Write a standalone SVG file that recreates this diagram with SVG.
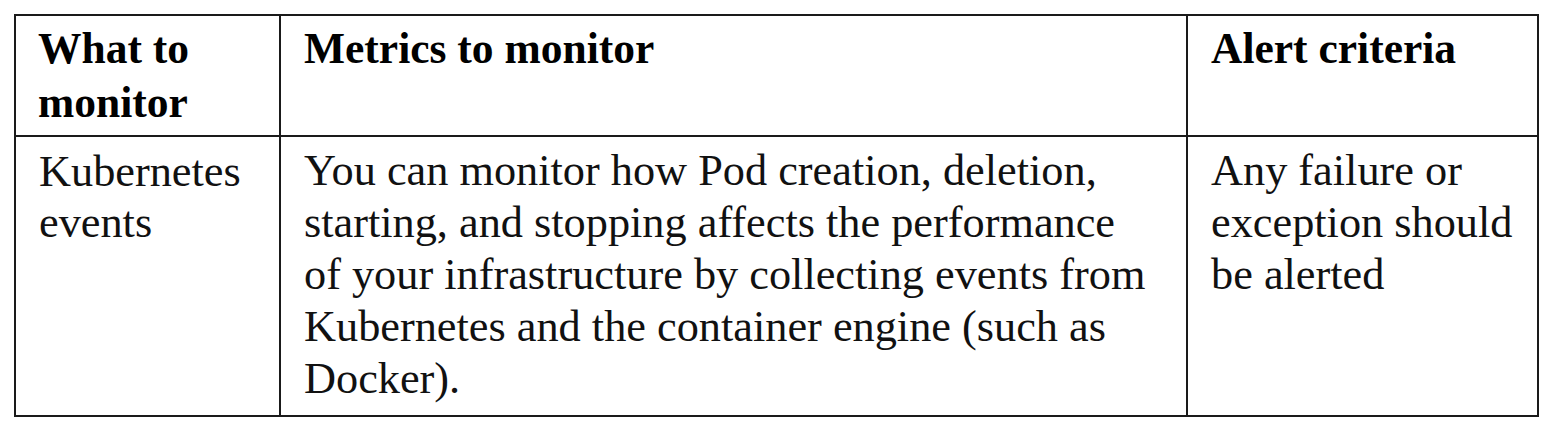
<svg xmlns="http://www.w3.org/2000/svg" width="1554" height="432" viewBox="0 0 1554 432">
<style>
.grid{stroke:#1a1a1a;stroke-width:2;fill:none}
.t{font-family:"Liberation Serif","Times New Roman",serif;font-size:44.3px;fill:#111}
.h{font-weight:bold;fill:#000;font-size:43.5px}
</style>
<rect width="1554" height="432" fill="#fff"/>
<g id="table-lines">
<rect class="grid" x="15" y="15" width="1523" height="401"/>
<line class="grid" x1="15" y1="136" x2="1538" y2="136"/>
<line class="grid" x1="280" y1="15" x2="280" y2="416"/>
<line class="grid" x1="1187" y1="15" x2="1187" y2="416"/>
</g>
<g id="header-what">
<text class="t h" x="38" y="63">What to</text>
<text class="t h" x="38" y="117">monitor</text>
</g>
<g id="header-metrics">
<text class="t h" x="304" y="63">Metrics to monitor</text>
</g>
<g id="header-alert">
<text class="t h" x="1211" y="63">Alert criteria</text>
</g>
<g id="cell-what">
<text class="t" x="39" y="186">Kubernetes</text>
<text class="t" x="39" y="237">events</text>
</g>
<g id="cell-metrics">
<text class="t" x="304" y="185">You can monitor how Pod creation, deletion,</text>
<text class="t" x="304" y="237">starting, and stopping affects the performance</text>
<text class="t" x="304" y="289">of your infrastructure by collecting events from</text>
<text class="t" x="304" y="341">Kubernetes and the container engine (such as</text>
<text class="t" x="304" y="393">Docker).</text>
</g>
<g id="cell-alert">
<text class="t" x="1211" y="185">Any failure or</text>
<text class="t" x="1211" y="237">exception should</text>
<text class="t" x="1211" y="289">be alerted</text>
</g>
</svg>
